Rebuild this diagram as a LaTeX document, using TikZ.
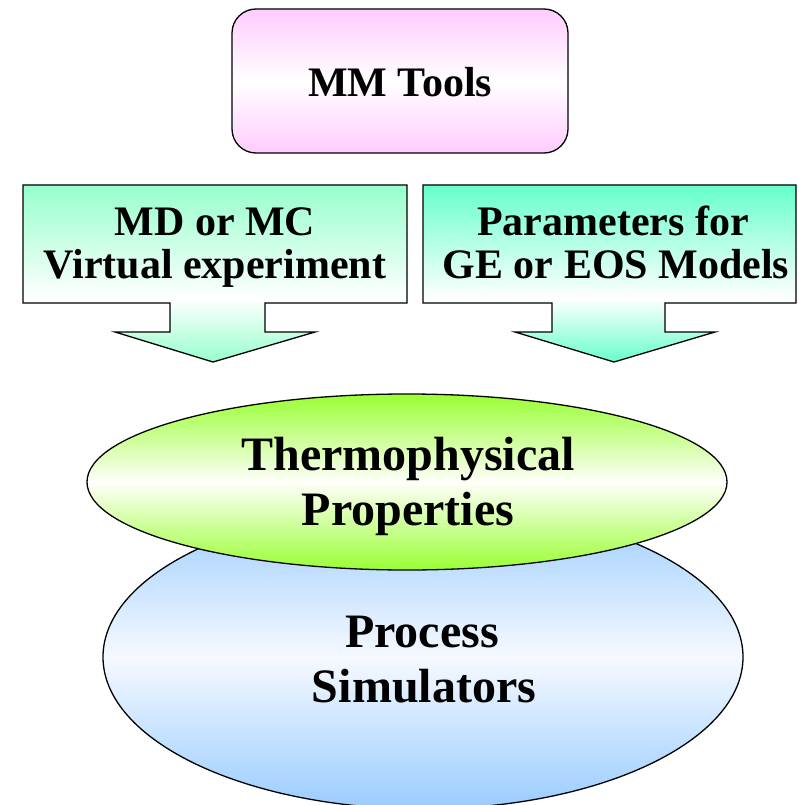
\documentclass[tikz,border=0pt]{standalone}
\usepackage{fontspec}
\setmainfont{Liberation Serif}
\usetikzlibrary{shapes.geometric}

\definecolor{pinkend}{RGB}{255,204,255}
\definecolor{mintA}{RGB}{150,255,204}
\definecolor{mintB}{RGB}{102,255,204}
\definecolor{limeend}{RGB}{153,255,51}
\definecolor{limemid}{RGB}{255,255,250}
\definecolor{skyend}{RGB}{153,204,255}
\definecolor{skymid}{RGB}{246,249,255}

% callout fill: colour at top and tip, white just under the text box
\pgfdeclareverticalshading{calloutA}{100bp}{%
  color(0bp)=(mintA); color(25bp)=(mintA); color(43bp)=(white);
  color(75bp)=(mintA); color(100bp)=(mintA)}
\pgfdeclareverticalshading{calloutB}{100bp}{%
  color(0bp)=(mintB); color(25bp)=(mintB); color(43bp)=(white);
  color(75bp)=(mintB); color(100bp)=(mintB)}

\tikzset{
  outline/.style={draw=black, line width=1.3pt},
  boxtext/.style={font=\bfseries\fontsize{42}{42}\selectfont, inner sep=0pt, anchor=base},
  bigtext/.style={font=\bfseries\fontsize{48}{48}\selectfont, inner sep=0pt, anchor=base},
}

\begin{document}
\begin{tikzpicture}[x=1pt, y=-1pt]
\useasboundingbox (0,0) rectangle (798,805);

% lower ellipse
\node[ellipse, outline, minimum width=640pt, minimum height=304pt, inner sep=0pt,
      top color=skyend, bottom color=skyend, middle color=skymid] (sim) at (423,657) {};
% upper ellipse
\node[ellipse, outline, minimum width=640pt, minimum height=176pt, inner sep=0pt,
      top color=limeend, bottom color=limeend, middle color=limemid] (thermo) at (407,482) {};

% top rounded box
\node[rectangle, rounded corners=24pt, outline, minimum width=336pt, minimum height=144pt,
      top color=pinkend, bottom color=pinkend, middle color=white] (mm) at (400,81) {};

% left callout
\draw[outline, shading=calloutA]
  (23,185) -- (407,185) -- (407,303) -- (265,303) -- (265,332) -- (315,332)
  -- (213,362) -- (115,332) -- (170,332) -- (170,303) -- (23,303) -- cycle;
% right callout
\draw[outline, shading=calloutB]
  (423,185) -- (796,185) -- (796,303) -- (665,303) -- (665,332) -- (715,332)
  -- (614,362) -- (515,332) -- (552,332) -- (552,303) -- (423,303) -- cycle;

% labels
\node[boxtext] (mmtxt) at (400,97) {MM Tools};
\node[boxtext] (l1) at (215,235) {MD or MC};
\node[boxtext] (l2) at (215,278) {Virtual experiment};
\node[boxtext] (r1) at (613,235) {Parameters for};
\node[boxtext] (r2) at (616,278) {GE or EOS Models};
\node[bigtext] (t1) at (408,470) {Thermophysical};
\node[bigtext] (t2) at (408,525) {Properties};
\node[bigtext] (s1) at (422,647) {Process};
\node[bigtext] (s2) at (424,702) {Simulators};
\end{tikzpicture}
\end{document}
